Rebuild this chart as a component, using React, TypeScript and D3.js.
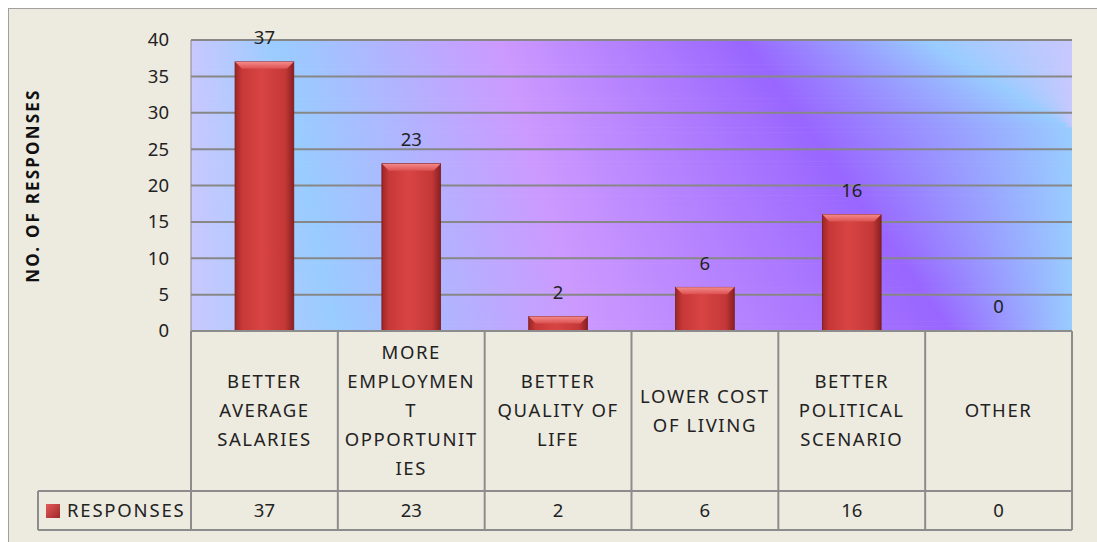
import React from "react";
import * as d3 from "d3";

const categories: string[][] = [
  ["BETTER", "AVERAGE", "SALARIES"],
  ["MORE", "EMPLOYMEN", "T", "OPPORTUNIT", "IES"],
  ["BETTER", "QUALITY OF", "LIFE"],
  ["LOWER COST", "OF LIVING"],
  ["BETTER", "POLITICAL", "SCENARIO"],
  ["OTHER"],
];
const responses: number[] = [37, 23, 2, 6, 16, 0];
const yTicks: number[] = [0, 5, 10, 15, 20, 25, 30, 35, 40];
const seriesName = "RESPONSES";
const yTitle = "NO. OF RESPONSES";

const W = 1097;
const H = 542;
const plotL = 191, plotR = 1072, plotT = 40, plotB = 331;
const tableB1 = 491, tableB2 = 530;
const FONT = "'Noto Sans', sans-serif";

// background colour bands (top row x positions / bottom row x positions)
const bgColors = ["#c8c8fe", "#c8c8fe", "#99ccff", "#cc99ff", "#9966ff", "#99ccff", "#c8c8fe"];
const bgTop = [150, 191, 278, 501, 743, 926, 1072];
const bgBot = [150, 191, 335, 582, 950, 1400, 1550];

export default function App() {
  const x = d3.scaleBand<number>().domain(d3.range(categories.length)).range([plotL, plotR]).paddingInner(0.6).paddingOuter(0.3);
  const xCell = d3.scaleBand<number>().domain(d3.range(categories.length)).range([plotL, plotR]);
  const y = d3.scaleLinear().domain([0, 40]).range([plotB, plotT]);
  const lineH = 29;
  const labelMid = (plotB + tableB1) / 2;
  const N = 60;
  const sh = (plotB - plotT) / N;
  const strips = d3.range(N).map((k) => {
    const t = (k + 0.5) / N;
    return bgTop.map((a, i) => a + (bgBot[i] - a) * t);
  });
  const ts = { fontSize: 18.5, fill: "#222" };
  return (
    <svg width={W} height={H} style={{ position: "absolute", left: 0, top: 0 }} fontFamily={FONT}>
      <defs>
        {strips.map((xs, k) => (
          <linearGradient key={k} id={`bg${k}`} gradientUnits="userSpaceOnUse" x1={plotL} x2={plotR} y1={0} y2={0}>
            {xs.map((xv, i) => (
              <stop key={i} offset={(xv - plotL) / (plotR - plotL)} stopColor={bgColors[i]} />
            ))}
          </linearGradient>
        ))}
        <linearGradient id="bar" x1="0" y1="0" x2="1" y2="0">
          <stop offset="0" stopColor="#9c2626" />
          <stop offset="0.12" stopColor="#c83838" />
          <stop offset="0.45" stopColor="#d84444" />
          <stop offset="0.85" stopColor="#c53838" />
          <stop offset="1" stopColor="#8a2020" />
        </linearGradient>
        <linearGradient id="barTop" x1="0" y1="0" x2="0" y2="1">
          <stop offset="0" stopColor="#f48a8a" />
          <stop offset="1" stopColor="#dc5050" />
        </linearGradient>
        <linearGradient id="sw" x1="0" y1="0" x2="1" y2="1">
          <stop offset="0" stopColor="#e45a5a" />
          <stop offset="1" stopColor="#9e2828" />
        </linearGradient>
      </defs>
      <rect x={0} y={0} width={W} height={H} fill="#ffffff" />
      <rect x={8.5} y={8.5} width={W - 6} height={H - 8} fill="#edeae0" stroke="#a0a0a0" strokeWidth={1} />
      {strips.map((_, k) => (
        <rect key={k} x={plotL} y={plotT + k * sh} width={plotR - plotL} height={sh + 0.6} fill={`url(#bg${k})`} />
      ))}
      {yTicks.map((t) => (
        <g key={t}>
          {t > 0 && <line x1={plotL} x2={plotR} y1={y(t)} y2={y(t)} stroke="#878787" strokeWidth={2} />}
          <text x={169} y={y(t)} dy="0.35em" textAnchor="end" {...ts}>{t}</text>
        </g>
      ))}
      <line x1={plotL} x2={plotL} y1={plotT} y2={plotB} stroke="#878787" strokeWidth={1} />
      <text transform={`translate(33,${(plotT + plotB) / 2}) rotate(-90)`} textAnchor="middle" dy="0.35em" fontSize={17} fontWeight="bold" fill="#111" letterSpacing={2.2}>{yTitle}</text>
      {responses.map((v, i) => {
        const bx = x(i)!;
        const bw = x.bandwidth();
        const top = y(v);
        const h = plotB - top;
        const bev = Math.min(7, h / 2);
        return (
          <g key={i}>
            {h > 0 && (
              <g>
                <rect x={bx} y={top} width={bw} height={h} fill="url(#bar)" stroke="#7a1c1c" strokeWidth={0.8} />
                <polygon points={`${bx},${top} ${bx + bw},${top} ${bx + bw - bev},${top + bev} ${bx + bev},${top + bev}`} fill="url(#barTop)" />
              </g>
            )}
            <text x={bx + bw / 2} y={top - 24} dy="0.35em" textAnchor="middle" {...ts}>{v}</text>
          </g>
        );
      })}
      <g stroke="#8c8c8c" strokeWidth={2} fill="none">
        <line x1={plotL} x2={plotR} y1={plotB} y2={plotB} />
        <line x1={38} x2={plotR} y1={tableB1} y2={tableB1} />
        <line x1={38} x2={plotR} y1={tableB2} y2={tableB2} />
        <line x1={38} x2={38} y1={tableB1} y2={tableB2} />
        {d3.range(categories.length + 1).map((i) => {
          const xx = i < categories.length ? xCell(i)! : plotR;
          return <line key={i} x1={xx} x2={xx} y1={plotB} y2={tableB2} />;
        })}
      </g>
      {categories.map((lines, i) => {
        const cx = xCell(i)! + xCell.bandwidth() / 2;
        const n = lines.length;
        return (
          <g key={i}>
            {lines.map((ln, j) => (
              <text key={j} x={cx} y={labelMid + (j - (n - 1) / 2) * lineH} dy="0.35em" textAnchor="middle" {...ts} letterSpacing={1.6}>{ln}</text>
            ))}
            <text x={cx} y={(tableB1 + tableB2) / 2} dy="0.35em" textAnchor="middle" {...ts}>{responses[i]}</text>
          </g>
        );
      })}
      <rect x={46} y={504} width={14} height={14} fill="url(#sw)" />
      <text x={67} y={(tableB1 + tableB2) / 2} dy="0.35em" {...ts} letterSpacing={1.8}>{seriesName}</text>
    </svg>
  );
}
